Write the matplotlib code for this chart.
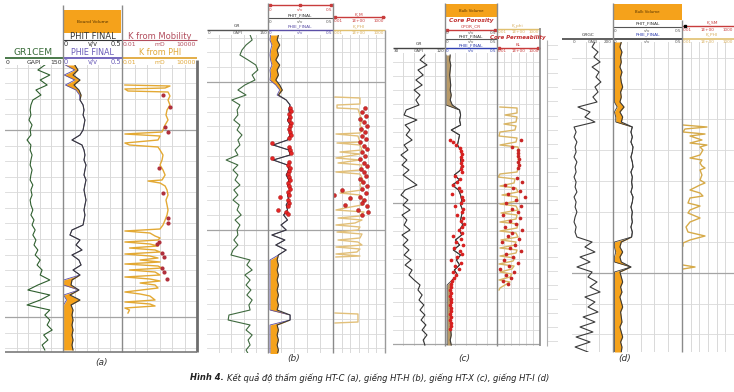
import numpy as np
import matplotlib
matplotlib.use("Agg")
import matplotlib.pyplot as plt
from matplotlib.patches import Rectangle
from matplotlib.ticker import NullLocator

# ======================= DATA =======================
# ---- (a) well HT-C ----
depth_a = list(range(65, 351, 5))
gr_a = [103, 85, 116, 91, 109, 80, 93, 72, 67, 65, 67, 62, 70, 65, 67, 57, 67, 65, 70, 67,
        65, 70, 67, 65, 72, 67, 70, 65, 67, 72, 67, 75, 70, 78, 72, 80, 75, 85, 78, 91,
        83, 96, 91, 116, 85, 59, 116, 91, 57, 116, 103, 116, 109, 122, 100, 111, 96, 103]
phit_a = [0.10, 0.127, 0.085, 0.144, 0.093, 0.135, 0.153, 0.144, 0.17, 0.178, 0.17, 0.186,
          0.178, 0.17, 0.144, 0.076, 0.161, 0.178, 0.186, 0.178, 0.195, 0.186, 0.178, 0.195,
          0.186, 0.178, 0.186, 0.195, 0.186, 0.178, 0.186, 0.178, 0.17, 0.076, 0.059, 0.144,
          0.11, 0.161, 0.076, 0.135, 0.153, 0.085, 0.144, 0.076, 0.068, 0.135, 0.059, 0.144,
          0.068, 0.085, 0.076, 0.085, 0.076, 0.085, 0.076, 0.085, 0.076, 0.085]
phie_a = [0.02, 0.10, 0.01, 0.10, 0.02, 0.11, 0.14, 0.144, 0.17, 0.178, 0.17, 0.186,
          0.178, 0.17, 0.144, 0.076, 0.161, 0.178, 0.186, 0.178, 0.195, 0.186, 0.178, 0.195,
          0.186, 0.178, 0.186, 0.195, 0.186, 0.178, 0.186, 0.178, 0.17, 0.076, 0.059, 0.144,
          0.11, 0.161, 0.076, 0.135, 0.153, 0.085, 0.144, 0.005, 0.005, 0.135, 0.005, 0.03,
          0.005, 0.005, 0.005, 0.005, 0.005, 0.005, 0.005, 0.005, 0.005, 0.005]
kphi_a = [(85, 0.017), (86, 69), (88, 28), (89, 0.017), (91, 0.03), (92, 48), (96, 69), (100, 48),
          (105, 69), (110, 40), (115, 33), (120, 48), (125, 28), (130, 19), (132, 16), (134, 0.017),
          (136, 11), (140, 7.6), (143, 0.017), (145, 0.04), (147, 7.6), (150, 11), (155, 19),
          (160, 16), (165, 11), (170, 19), (175, 28), (180, 16), (181, 1.2), (183, 11), (186, 28),
          (190, 40), (195, 48), (200, 33), (205, 40), (210, 48), (215, 40), (220, 28), (225, 19),
          (229, 11), (231, 0.017), (233, 1.7), (236, 4.4), (238, 11), (240, 7.6), (242, 0.017),
          (244, 1.7), (246, 7.6), (248, 0.04), (250, 4.4), (252, 11), (254, 0.017), (256, 1.7),
          (258, 7.6), (260, 0.28), (262, 11), (264, 0.017), (266, 7.6), (268, 16), (270, 0.04),
          (272, 4.4), (275, 11), (277, 0.017), (279, 1.7), (281, 11), (283, 0.28), (285, 4.4),
          (288, 7.6), (292, 0.017), (294, 0.28), (296, 1.7), (300, 4.4), (302, 0.017), (304, 1.7),
          (306, 4.4), (308, 0.017), (310, 0.04), (313, 0.03)]
kmob_a = [(95, 19), (107, 69), (127, 28), (132, 48), (168, 9), (193, 19), (218, 48), (223, 48),
          (242, 9), (244, 6), (253, 16), (257, 23), (268, 16), (272, 23), (279, 40)]

# ---- (b) well HT-H ----
depth_b = list(range(35, 356, 5))
gr_b = [106, 111, 96, 86, 81, 101, 120, 125, 111, 118, 93, 76, 96, 61, 81, 74, 76, 66, 81, 74,
        86, 76, 81, 69, 76, 47, 76, 64, 76, 69, 81, 66, 76, 64, 79, 74, 84, 69, 81, 74,
        76, 66, 76, 64, 59, 106, 98, 111, 93, 106, 96, 108, 98, 111, 103, 106, 54, 52, 106, 96,
        111, 101, 106, 96, 103]
phit_b = [0.08, 0.07, 0.09, 0.07, 0.08, 0.06, 0.09, 0.07, 0.08, 0.06, 0.09, 0.11, 0.08,
          0.14, 0.17, 0.16, 0.17, 0.15, 0.17, 0.16, 0.17, 0.15, 0.04, 0.16, 0.17, 0.04, 0.15,
          0.16, 0.14, 0.16, 0.15, 0.17, 0.15, 0.16, 0.14, 0.15, 0.12, 0.15, 0.10, 0.14, 0.03,
          0.13, 0.06, 0.14, 0.08, 0.07, 0.08, 0.07, 0.08, 0.07, 0.08, 0.07, 0.08, 0.07, 0.08,
          0.07, 0.17, 0.17, 0.07, 0.08, 0.07, 0.08, 0.07, 0.08, 0.07]
phie_b = [0.02, 0.015, 0.03, 0.02, 0.015, 0.02, 0.03, 0.015, 0.02, 0.015, 0.06, 0.09, 0.07,
          0.14, 0.17, 0.16, 0.17, 0.15, 0.17, 0.16, 0.17, 0.15, 0.04, 0.16, 0.17, 0.04, 0.15,
          0.16, 0.14, 0.16, 0.15, 0.17, 0.15, 0.16, 0.14, 0.15, 0.12, 0.15, 0.10, 0.14, 0.03,
          0.13, 0.06, 0.14, 0.08, 0.015, 0.015, 0.015, 0.015, 0.015, 0.015, 0.015, 0.015, 0.015,
          0.015, 0.015, 0.17, 0.17, 0.015, 0.015, 0.015, 0.015, 0.015, 0.015, 0.015]
cpor_b = [(108, 0.17), (111, 0.18), (114, 0.16), (117, 0.17), (120, 0.16), (123, 0.18), (126, 0.17),
          (129, 0.16), (132, 0.17), (135, 0.18), (138, 0.16), (143, 0.03), (147, 0.16), (150, 0.17),
          (153, 0.18), (158, 0.03), (162, 0.16), (165, 0.15), (168, 0.17), (171, 0.16), (174, 0.15),
          (177, 0.16), (180, 0.17), (183, 0.15), (186, 0.16), (189, 0.17), (192, 0.15), (195, 0.16),
          (197, 0.09), (200, 0.15), (203, 0.16), (206, 0.15), (210, 0.08), (212, 0.14), (214, 0.15)]
kphi_b = [(97, 0.017), (98, 13), (104, 13), (105, 0.029), (108, 0.029), (109, 7.6), (115, 13),
          (120, 22), (125, 13), (130, 29), (133, 13), (134, 0.022), (136, 7.6), (142, 13),
          (143, 0.029), (145, 13), (150, 22), (152, 0.064), (154, 13), (158, 0.022), (160, 13),
          (163, 0.038), (165, 22), (170, 13), (172, 0.022), (174, 13), (180, 29), (185, 13),
          (190, 22), (193, 0.064), (195, 13), (200, 29), (205, 22), (208, 0.24), (210, 0.022),
          (212, 38), (216, 13), (218, 0.038), (220, 22), (223, 3.5), (225, 0.022), (227, 13),
          (230, 7.6), (232, 0.029), (234, 22), (238, 13), (240, 0.038), (242, 7.6), (245, 22),
          (247, 0.022), (249, 13), (252, 5.8), (254, 0.022), (256, 13), (257, 0.022),
          (285, np.nan), (313, 0.017), (314, 7.6), (322, 7.6), (323, 0.017)]
kcore_b = [(108, 49), (112, 22), (116, 64), (119, 13), (122, 38), (126, 83), (129, 17), (132, 49),
           (136, 22), (139, 64), (142, 13), (146, 38), (149, 83), (152, 22), (156, 49), (159, 13),
           (163, 38), (166, 83), (169, 17), (172, 38), (176, 64), (179, 13), (182, 29), (186, 83),
           (189, 22), (190, 0.11), (193, 64), (195, 0.012), (197, 13), (198, 0.9), (200, 38),
           (203, 22), (205, 0.24), (206, 83), (210, 7.6), (212, 110), (215, 22)]

# ---- (c) well HT-X ----
depth_c = list(range(55, 346, 5))
gr_c = [92, 78, 98, 72, 87, 66, 84, 61, 78, 66, 75, 38, 32, 69, 35, 49, 38, 55, 32, 43,
        23, 40, 26, 46, 29, 49, 69, 35, 23, 43, 29, 49, 26, 40, 32, 49, 26, 43, 29, 46,
        32, 52, 35, 55, 46, 61, 78, 72, 84, 75, 89, 78, 92, 81, 95, 84, 98, 87, 92]
phit_c = [0.05, 0.045, 0.055, 0.05, 0.045, 0.05, 0.055, 0.05, 0.06, 0.05, 0.07, 0.14, 0.15,
          0.14, 0.15, 0.06, 0.14, 0.13, 0.12, 0.15, 0.16, 0.15, 0.16, 0.15, 0.09, 0.14, 0.07,
          0.13, 0.15, 0.16, 0.15, 0.17, 0.16, 0.15, 0.17, 0.14, 0.16, 0.10, 0.14, 0.08, 0.15,
          0.11, 0.14, 0.09, 0.12, 0.07, 0.06, 0.055, 0.06, 0.05, 0.06, 0.055, 0.06, 0.05, 0.06,
          0.055, 0.06, 0.05, 0.06]
phie_c = [0.01, 0.01, 0.01, 0.01, 0.01, 0.01, 0.01, 0.01, 0.01, 0.01, 0.01, 0.14, 0.15,
          0.14, 0.15, 0.06, 0.14, 0.13, 0.12, 0.15, 0.16, 0.15, 0.16, 0.15, 0.09, 0.14, 0.07,
          0.13, 0.15, 0.16, 0.15, 0.17, 0.16, 0.15, 0.17, 0.14, 0.16, 0.10, 0.14, 0.08, 0.15,
          0.11, 0.14, 0.09, 0.12, 0.07, 0.02, 0.02, 0.02, 0.02, 0.02, 0.02, 0.02, 0.02, 0.02,
          0.02, 0.02, 0.02, 0.02]
cpor_c = [(140, 0.05), (142, 0.08), (145, 0.11), (148, 0.14), (151, 0.15), (154, 0.16), (157, 0.15),
          (160, 0.16), (163, 0.15), (166, 0.16), (169, 0.15), (172, 0.16), (176, 0.10), (179, 0.14),
          (182, 0.12), (185, 0.08), (188, 0.13), (191, 0.15), (194, 0.07), (197, 0.16), (200, 0.17),
          (203, 0.15), (206, 0.10), (209, 0.17), (212, 0.16), (215, 0.12), (218, 0.17), (221, 0.15),
          (224, 0.18), (227, 0.16), (230, 0.13), (233, 0.16), (236, 0.08), (239, 0.15), (242, 0.11),
          (245, 0.17), (248, 0.09), (251, 0.14), (254, 0.16), (257, 0.12), (260, 0.06), (263, 0.15),
          (266, 0.10), (269, 0.13), (272, 0.08), (275, 0.11), (278, 0.09), (281, 0.07), (284, 0.06),
          (287, 0.06), (290, 0.05), (293, 0.06), (296, 0.05), (299, 0.06), (302, 0.055), (305, 0.05),
          (308, 0.06), (311, 0.055), (314, 0.05), (317, 0.06), (320, 0.05), (323, 0.055),
          (326, 0.06), (329, 0.05)]
kphi_c = [(107, 0.026), (108, 6.2), (113, 6.2), (115, 0.13), (117, 6.2), (122, 4.5), (124, 0.095),
          (126, 4.5), (130, 3.2), (132, 0.026), (136, 0.019), (138, 6.2), (142, 4.5), (145, 0.026),
          (147, 8.5), (152, 12), (158, 8.5), (163, 12), (168, 8.5), (172, 6.2), (174, 0.026),
          (177, 0.014), (179, 3.2), (183, 2.4), (186, 0.026), (188, 4.5), (192, 8.5), (195, 0.05),
          (197, 6.2), (201, 8.5), (204, 0.026), (206, 4.5), (210, 8.5), (213, 0.036), (215, 6.2),
          (219, 4.5), (222, 0.026), (224, 8.5), (228, 6.2), (231, 0.026), (233, 4.5), (237, 8.5),
          (240, 0.036), (242, 4.5), (245, 3.2), (248, 0.026), (250, 6.2), (253, 4.5), (256, 0.026),
          (258, 3.2), (261, 1.7), (264, 0.019), (266, 2.4), (269, 1.2), (272, 0.026), (274, 1.2),
          (277, 0.65), (280, 0.019), (282, 0.65), (285, 0.13), (288, 0.026), (290, 0.019)]
kcore_c = [(140, 22), (147, 1.2), (150, 8.5), (153, 8.5), (156, 8.5), (159, 12), (162, 8.5),
           (165, 12), (168, 8.5), (178, 6.2), (182, 31), (185, 0.13), (188, 1.7), (191, 16),
           (194, 0.34), (197, 80), (200, 4.5), (203, 0.18), (206, 22), (209, 1.2), (212, 8.5),
           (215, 0.07), (218, 16), (221, 0.65), (224, 4.5), (227, 0.13), (230, 31), (233, 1.2),
           (236, 0.34), (239, 12), (242, 0.05), (245, 3.2), (248, 0.65), (251, 22), (254, 0.18),
           (257, 1.7), (260, 0.095), (263, 8.5), (266, 0.47), (269, 0.026), (272, 2.4),
           (275, 0.18), (278, 0.9), (281, 0.07), (284, 0.34)]

# ---- (d) well HT-I ----
depth_d = list(range(42, 353, 5))
gr_d = [112, 98, 127, 107, 137, 98, 132, 117, 141, 112, 127, 102, 122, 29, 88, 63, 112, 10, 20, 10,
        24, 15, 20, 10, 24, 15, 20, 10, 20, 15, 24, 10, 20, 15, 24, 15, 10, 20, 15, 24,
        98, 63, 112, 39, 88, 24, 98, 78, 122, 88, 137, 63, 112, 78, 127, 54, 112, 39, 102, 20,
        88, 15, 78]
phit_d = [0.06, 0.05, 0.065, 0.055, 0.06, 0.05, 0.065, 0.055, 0.06, 0.07, 0.055, 0.06, 0.05,
          0.08, 0.05, 0.07, 0.06, 0.14, 0.13, 0.14, 0.13, 0.145, 0.14, 0.13, 0.14, 0.145, 0.13,
          0.14, 0.135, 0.14, 0.13, 0.145, 0.14, 0.13, 0.14, 0.135, 0.14, 0.13, 0.14, 0.135,
          0.06, 0.05, 0.07, 0.05, 0.06, 0.13, 0.05, 0.06, 0.07, 0.055, 0.065, 0.05, 0.06, 0.07,
          0.055, 0.06, 0.065, 0.05, 0.06, 0.07, 0.055, 0.065, 0.06]
phie_d = [0.01, 0.01, 0.01, 0.01, 0.01, 0.01, 0.01, 0.01, 0.01, 0.01, 0.01, 0.01, 0.01,
          0.03, 0.01, 0.02, 0.02, 0.14, 0.13, 0.14, 0.13, 0.145, 0.14, 0.13, 0.14, 0.145, 0.13,
          0.14, 0.135, 0.14, 0.13, 0.145, 0.14, 0.13, 0.14, 0.135, 0.14, 0.13, 0.14, 0.135,
          0.01, 0.01, 0.02, 0.01, 0.01, 0.13, 0.01, 0.01, 0.01, 0.01, 0.01, 0.01, 0.01, 0.01,
          0.01, 0.01, 0.01, 0.01, 0.01, 0.01, 0.01, 0.01, 0.01]
kphi_d = [(125, 0.013), (127, 7.6), (129, 0.022), (132, 0.013), (134, 4.5), (136, 0.084), (140, 2.0),
          (143, 0.084), (145, 7.6), (147, 1.2), (150, 2.6), (155, 1.2), (158, 0.084), (160, 2.0),
          (163, 1.2), (166, 2.0), (168, 4.5), (170, 1.2), (175, 2.0), (180, 1.2), (183, 4.5),
          (185, 1.2), (190, 0.084), (193, 1.2), (196, 2.6), (198, 0.084), (203, 0.049), (206, 1.2),
          (210, 0.084), (213, 0.049), (218, 1.2), (222, 0.084), (227, 0.029), (232, 0.049),
          (236, 4.5), (240, 0.084), (243, 0.013), (246, 0.013), (255, np.nan), (265, 0.013),
          (267, 0.32), (269, 0.013)]

panel_labels = ["(a)", "(b)", "(c)", "(d)"]
caption_bold = "Hình 4."
caption_text = "Kết quả độ thấm giếng HT-C (a), giếng HT-H (b), giếng HT-X (c), giếng HT-I (d)"

# ======================= FIGURE =======================
W, H = 734, 392
fig = plt.figure(figsize=(W / 100, H / 100), dpi=100)
fig.patch.set_facecolor("white")

LIGHT = "#d9d9d9"
MAJOR = "#a4a4a4"
ORANGE = "#f5a21b"
SEP = "#8a8a8a"


def px_axes(x0, y0, x1, y1, z=1):
    return fig.add_axes([x0 / W, 1 - y1 / H, (x1 - x0) / W, (y1 - y0) / H], zorder=z)


def track(x0, x1, y0, y1, xlim, log=False, nv=5, hminor=(), hmajor=()):
    ax = px_axes(x0, y0, x1, y1)
    if log:
        ax.set_xscale("log")
    ax.set_xlim(*xlim)
    ax.set_ylim(y1, y0)
    if log:
        lo, hi = np.log10(xlim)
        vs = [10.0 ** k for k in range(int(round(lo)) + 1, int(round(hi)))]
    else:
        vs = np.linspace(xlim[0], xlim[1], nv + 1)[1:-1]
    for v in vs:
        ax.axvline(v, color=LIGHT, lw=0.7, zorder=0)
    for d in hminor:
        ax.axhline(d, color=LIGHT, lw=0.6, zorder=0)
    for d in hmajor:
        ax.axhline(d, color=MAJOR, lw=0.9, zorder=0)
    ax.set_xticks([])
    ax.set_yticks([])
    ax.xaxis.set_minor_locator(NullLocator())
    ax.yaxis.set_minor_locator(NullLocator())
    for s in ax.spines.values():
        s.set_visible(False)
    ax.set_facecolor("none")
    return ax


def por(ax, depth, phit, phie, fill, phie_col="#5b4fa6"):
    phit = np.asarray(phit, float)
    phie = np.asarray(phie, float)
    ax.fill_betweenx(depth, phie, phit, where=phit >= phie, color=fill, lw=0,
                     interpolate=True, zorder=2)
    ax.plot(phie, depth, color=phie_col, lw=0.6, zorder=3)
    ax.plot(phit, depth, color="#3a3a3a", lw=0.8, zorder=4)


def unzip(pts):
    d = [p[0] for p in pts]
    v = [p[1] for p in pts]
    return d, v


# ---- panel (a) ----
ya0, ya1 = 65, 352
hmin_a = np.arange(130 - 15.58 * 4, ya1, 15.58)
ax = track(5, 63, ya0, ya1, (0, 150), hminor=hmin_a, hmajor=[130, 317])
ax.plot(gr_a, depth_a, color="#2f5f2f", lw=0.8)
ax = track(63, 122, ya0, ya1, (0, 0.5), hminor=hmin_a, hmajor=[130, 317])
por(ax, depth_a, phit_a, phie_a, ORANGE)
ax = track(122, 197, ya0, ya1, (0.01, 10000), log=True, hminor=hmin_a, hmajor=[130, 317])
d, v = unzip(kphi_a)
ax.plot(v, d, color="#e3a934", lw=1.0)
d, v = unzip(kmob_a)
ax.scatter(v, d, s=9, color="#b0303c", zorder=5, lw=0)

# ---- panel (b) ----
yb0, yb1 = 35, 353
hmin_b = np.arange(82 - 14.8 * 3, yb1, 14.8)
ax = track(207, 268, yb0, yb1, (0, 150), hminor=hmin_b, hmajor=[82, 230])
ax.plot(gr_b, depth_b, color="#3f6a3f", lw=0.8)
ax = track(268, 333, yb0, yb1, (0, 0.5), hminor=hmin_b, hmajor=[82, 230])
por(ax, depth_b, phit_b, phie_b, ORANGE)
d, v = unzip(cpor_b)
ax.scatter(v, d, s=8, color="#e52525", edgecolors="#a01010", linewidths=0.3, zorder=5)
ax = track(333, 385, yb0, yb1, (0.01, 10000), log=True, hminor=hmin_b, hmajor=[82, 230])
d, v = unzip(kphi_b)
ax.plot(v, d, color="#e2c07a", lw=1.0)
d, v = unzip(kcore_b)
ax.scatter(v, d, s=8, color="#d42a2a", edgecolors="#901010", linewidths=0.3, zorder=5)

# ---- panel (c) ----
yc0, yc1 = 53, 346
hmin_c = np.arange(203 - 14.1 * 10, yc1, 14.1)
ax = track(393, 445, yc0, yc1, (0, 150), hminor=hmin_c, hmajor=[203, 344])
ax.plot(gr_c, depth_c, color="#333333", lw=0.8)
ax = track(445, 497, yc0, yc1, (0, 0.5), hminor=hmin_c, hmajor=[203, 344])
por(ax, depth_c, phit_c, phie_c, "#b89a68", phie_col="#3a3a3a")
d, v = unzip(cpor_c)
ax.scatter(v, d, s=7, color="#d82020", lw=0, zorder=5)
ax = track(497, 540, yc0, yc1, (0.01, 10000), log=True, hminor=hmin_c, hmajor=[203, 344])
d, v = unzip(kphi_c)
ax.plot(v, d, color="#d9b565", lw=1.0)
d, v = unzip(kcore_c)
ax.scatter(v, d, s=7, color="#c82525", lw=0, zorder=5)
track(547, 558, 40, yc1, (0, 1), nv=1, hminor=np.arange(45, yc1, 14.1))

# ---- panel (d) ----
yd0, yd1 = 42, 352
hmin_d = np.arange(58, yd1, 30.7)
ax = track(572, 613, yd0, yd1, (0, 200), nv=3, hminor=hmin_d, hmajor=[273])
ax.plot(gr_d, depth_d, color="#3a3a3a", lw=0.8)
ax = track(613, 682, yd0, yd1, (0, 0.5), hminor=hmin_d, hmajor=[273])
por(ax, depth_d, phit_d, phie_d, ORANGE, phie_col="#3a3a3a")
ax = track(682, 734, yd0, yd1, (0.01, 10000), log=True, hminor=hmin_d, hmajor=[273])
d, v = unzip(kphi_d)
ax.plot(v, d, color="#d6aa48", lw=1.0)

# ======================= HEADERS / OVERLAY =======================
ov = fig.add_axes([0, 0, 1, 1], zorder=10)
ov.set_xlim(0, W)
ov.set_ylim(H, 0)
ov.axis("off")


def T(x, y, s, fs=5, c="#333333", ha="center", **kw):
    return ov.text(x, y, s, fontsize=fs, color=c, ha=ha, va="center", **kw)


def L(x0, x1, y0, y1, c=SEP, lw=1.0):
    ov.plot([x0, x1], [y0, y1], color=c, lw=lw, solid_capstyle="butt")


def scale(x0, x1, y, labels, c, fs=3):
    T(x0 + 1, y, labels[0], fs=fs, c=c, ha="left")
    T((x0 + x1) / 2, y, labels[1], fs=fs, c=c)
    T(x1 - 1, y, labels[2], fs=fs, c=c, ha="right")


# (a)
ov.add_patch(Rectangle((64, 10), 57, 23, color=ORANGE, lw=0))
T(92.5, 21.5, "Bound Volume", fs=3.2, c="#553300")
T(92.5, 36, "PHIT FINAL", fs=6.0, c="#333333")
L(63, 122, 40, 40, "#333333", 0.8)
scale(63, 122, 44.3, ["0", "v/v", "0.5"], "#333333", fs=4.8)
T(92.5, 52.3, "PHIE FINAL", fs=5.8, c="#6a5cb8")
L(63, 122, 58, 58, "#6a5cb8", 1.3)
scale(63, 122, 62.3, ["0", "v/v", "0.5"], "#6a5cb8", fs=4.8)
T(33, 52.5, "GR1CEM", fs=6.6, c="#3c6e3c")
L(5, 63, 58, 58, "#3c6e3c", 1.3)
scale(5, 63, 62.3, ["0", "GAPI", "150"], "#333333", fs=4.4)
T(160, 36, "K from Mobility", fs=6.0, c="#b24d5d")
L(122, 197, 40, 40, "#b24d5d", 0.8)
scale(122, 197, 44.3, ["0.01", "mD", "10000"], "#b24d5d", fs=4.4)
T(160, 52.3, "K from PHI", fs=5.8, c="#e0a83a")
L(122, 197, 58, 58, "#e0a83a", 1.3)
scale(122, 197, 62.3, ["0.01", "mD", "10000"], "#e0a83a", fs=4.4)
L(63, 63, 5, 352)
L(122, 122, 5, 352)
L(197, 197, 60, 352, "#6e6e6e", 2.0)
L(5, 197, 352, 352, "#7a7a7a", 1.2)

# (b)
RED = "#c83c3c"
L(268, 333, 5, 5, RED, 1.0)
ov.plot([270, 300, 331], [5, 5, 5], "s", ms=1.6, color=RED)
scale(268, 333, 10, ["0", "v/v", "0.5"], RED)
T(300, 15, "PHIT_FINAL", fs=3.2)
L(268, 333, 18, 18, "#555555", 0.8)
scale(268, 333, 21.5, ["0", "v/v", "0.5"], "#555555")
T(300, 26.5, "PHIE_FINAL", fs=3.2, c="#5b4fa6")
L(268, 333, 30, 30, "#5b4fa6", 1.0)
scale(268, 333, 33, ["0", "v/v", "0.5"], "#5b4fa6")
T(237, 26, "GR", fs=3.2)
L(207, 268, 30, 30, "#555555", 1.0)
scale(207, 268, 33, ["0", "GAPI", "150"], "#555555")
T(359, 14, "K_M", fs=3.2, c=RED)
L(333, 385, 17, 17, RED, 1.0)
ov.plot([335, 383], [17, 17], "s", ms=1.6, color=RED)
scale(333, 385, 20.5, ["0.01", "1E+00", "1000"], RED)
T(359, 26.5, "K_PHI", fs=3.2, c="#d9b060")
L(333, 385, 30, 30, "#e0c070", 1.0)
scale(333, 385, 33, ["0.01", "1E+00", "1000"], "#d9b060")
L(268, 268, 3, 353)
L(333, 333, 3, 353)
L(385, 385, 30, 353, "#9a9a9a", 1.0)

# (c)
ov.add_patch(Rectangle((445.5, 4), 51, 13, color=ORANGE, lw=0))
T(471, 10.5, "Bulk Volume", fs=2.8, c="#553300")
T(471, 20.5, "Core Porosity", fs=4.2, c="#c03030", style="italic", weight="bold")
T(471, 26.5, "CPOR_CR", fs=3.2, c=RED)
L(445, 497, 29.5, 29.5, RED, 1.0)
ov.plot([447, 495], [29.5, 29.5], "s", ms=1.6, color=RED)
scale(445, 497, 32.5, ["0", "v/v", "0.5"], "#555555")
T(471, 36.5, "PHIT_FINAL", fs=3.2)
L(445, 497, 39, 39, "#555555", 0.8)
scale(445, 497, 41.8, ["0", "v/v", "0.5"], "#555555")
T(471, 45.5, "PHIE_FINAL", fs=3.2, c="#3040b0")
L(445, 497, 48, 48, "#3040b0", 1.0)
scale(445, 497, 51, ["0", "v/v", "0.5"], "#3040b0")
T(419, 44, "GR", fs=3.2)
L(393, 445, 48, 48, "#444444", 1.0)
scale(393, 445, 51, ["30", "GAPI", "120"], "#444444")
T(518, 25.5, "K_phi", fs=3.2, c="#d9b060")
L(497, 540, 28.5, 28.5, "#e0c070", 1.0)
scale(497, 540, 31.5, ["0.01", "1E+00", "1000"], "#d9b060")
T(518, 37.5, "Core Permeability", fs=4.0, c="#c03030", style="italic", weight="bold")
T(518, 44.5, "KL", fs=3.2, c=RED)
L(497, 540, 48, 48, RED, 1.0)
ov.plot([499, 538], [48, 48], "s", ms=1.6, color=RED)
scale(497, 540, 51, ["0.01", "1E+00", "1000"], RED)
L(445, 445, 3, 346)
L(497, 497, 3, 346)
L(540, 540, 28, 346, SEP, 1.2)
L(547, 547, 40, 346, "#b0b0b0", 0.8)

# (d)
ov.add_patch(Rectangle((613.5, 4), 68, 16, color=ORANGE, lw=0))
T(647.5, 12, "Bulk Volume", fs=2.8, c="#553300")
T(647.5, 23.5, "PHIT_FINAL", fs=3.2)
L(613, 682, 27, 27, "#555555", 0.8)
scale(613, 682, 30.5, ["0", "v/v", "0.5"], "#555555")
T(647.5, 34.5, "PHIE_FINAL", fs=3.2, c="#3040b0")
L(613, 682, 38.5, 38.5, "#3a3a3a", 1.2)
scale(613, 682, 42, ["0", "v/v", "0.5"], "#555555")
T(588, 34.5, "GRGC", fs=3.2)
L(562, 613, 38.5, 38.5, "#444444", 1.2)
scale(572, 613, 42, ["0", "GAPI", "200"], "#555555")
T(712, 22.5, "K_SM", fs=3.2, c=RED)
L(682, 734, 26, 26, RED, 1.0)
ov.plot([685], [26], "s", ms=2, color="k")
scale(682, 734, 30, ["0.01", "1E+00", "1000"], RED)
T(712, 34.5, "K_PHI", fs=3.2, c="#d9b060")
L(682, 734, 38.5, 38.5, "#e0c070", 1.2)
scale(682, 734, 42, ["0.01", "1E+00", "1000"], "#d9b060")
L(613, 613, 3, 352)
L(682, 682, 20, 352)

# captions
CAPF = ["Liberation Sans Narrow", "DejaVu Sans"]
for lab, x, y in zip(panel_labels, [102, 294, 464, 625], [362, 358, 358, 358]):
    ov.text(x, y, lab, fontsize=6.5, style="italic", family=CAPF, color="#333333",
            ha="center", va="center")
t1 = ov.text(0, 378, caption_bold, fontsize=6.0, style="italic", weight="bold", family=CAPF,
             color="#222222", ha="left", va="center")
t2 = ov.text(0, 378, caption_text, fontsize=6.0, style="italic", family=CAPF,
             color="#222222", ha="left", va="center")
r = fig.canvas.get_renderer()
w1 = t1.get_window_extent(r).width
w2 = t2.get_window_extent(r).width
x_start = 369.5 - (w1 + 3 + w2) / 2
t1.set_x(x_start)
t2.set_x(x_start + w1 + 3)

fig.savefig("out.png", dpi=100, facecolor="white")
